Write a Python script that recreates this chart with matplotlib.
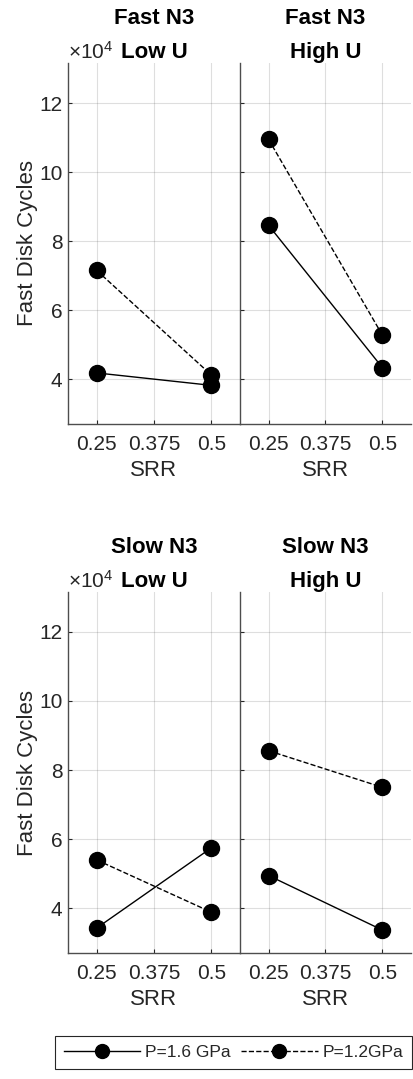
"""SRR 对快盘寿命的影响：四个工况的交互图。"""

import matplotlib

matplotlib.use("Agg")
import matplotlib.pyplot as plt
from matplotlib.lines import Line2D
from matplotlib.ticker import FuncFormatter

plt.rcParams["font.family"] = ["Liberation Sans", "DejaVu Sans"]
plt.rcParams["mathtext.fontset"] = "custom"
plt.rcParams["mathtext.rm"] = "Liberation Sans"

# =============================================================================
# 数据（单位：cycles）
# =============================================================================
SRR = [0.25, 0.5]
X_TICKS = [0.25, 0.375, 0.5]
X_TICK_LABELS = ["0.25", "0.375", "0.5"]
Y_TICKS = [40000, 60000, 80000, 100000, 120000]

FAST_LOW_16 = [41800, 38200]
FAST_LOW_12 = [71500, 41200]
FAST_HIGH_16 = [84600, 43300]
FAST_HIGH_12 = [109500, 52700]
SLOW_LOW_16 = [34300, 57500]
SLOW_LOW_12 = [54000, 38900]
SLOW_HIGH_16 = [49500, 33700]
SLOW_HIGH_12 = [85600, 75000]

PANEL_TITLES = ["Fast N3\nLow U", "Fast N3\nHigh U", "Slow N3\nLow U", "Slow N3\nHigh U"]
LEGEND_LABELS = ["P=1.6 GPa", "P=1.2GPa"]

W, H = 414, 1079
AX_COLOR = "#262626"
Y_LIM = (27000, 131600)
X_LIM = (0.1875, 0.5625)


def px_rect(x0, y0, x1, y1):
    return [x0 / W, 1 - y1 / H, (x1 - x0) / W, (y1 - y0) / H]


def style_axes(ax, show_ylabels):
    ax.set_xlim(*X_LIM)
    ax.set_ylim(*Y_LIM)
    ax.set_xticks(X_TICKS)
    ax.set_xticklabels(X_TICK_LABELS)
    ax.set_yticks(Y_TICKS)
    ax.yaxis.set_major_formatter(FuncFormatter(lambda v, _: f"{v / 1e4:g}"))
    ax.tick_params(axis="both", direction="in", length=3, width=0.8, colors=AX_COLOR, labelsize=15)
    ax.tick_params(axis="x", pad=8)
    ax.tick_params(axis="y", pad=4)
    ax.grid(True, color=AX_COLOR, alpha=0.15, linewidth=0.8)
    ax.set_axisbelow(True)
    for side in ("top", "right"):
        ax.spines[side].set_visible(False)
    for side in ("left", "bottom"):
        ax.spines[side].set_color("#4d4d4d")
        ax.spines[side].set_linewidth(1.0)
    ax.set_xlabel("SRR", fontsize=16, color=AX_COLOR, labelpad=4)
    if show_ylabels:
        ax.set_ylabel("Fast Disk Cycles", fontsize=16, color=AX_COLOR, labelpad=1)
        ax.text(0.0, 1.012, r"$\mathregular{\times10^{4}}$", transform=ax.transAxes,
                fontsize=15, color=AX_COLOR, ha="left", va="baseline")
    else:
        ax.tick_params(axis="y", labelleft=False)


def draw_panel(ax, title, p16, p12, show_ylabels):
    ax.plot(SRR, p16, color="black", linestyle="-", linewidth=1.0,
            marker="o", markersize=11.5, markerfacecolor="black", zorder=3)
    ax.plot(SRR, p12, color="black", linestyle="--", linewidth=1.0,
            marker="o", markersize=11.5, markerfacecolor="black", zorder=3)
    ax.set_title(title, fontsize=16, fontweight="bold", linespacing=1.8, pad=-0.5)
    style_axes(ax, show_ylabels)


fig = plt.figure(figsize=(W / 100, H / 100), dpi=100)

rows = [(63, 424), (591.7, 953.3)]
cols = [(68, 240), (240, 411)]
series = [
    (FAST_LOW_16, FAST_LOW_12),
    (FAST_HIGH_16, FAST_HIGH_12),
    (SLOW_LOW_16, SLOW_LOW_12),
    (SLOW_HIGH_16, SLOW_HIGH_12),
]

i = 0
for y0, y1 in rows:
    for j, (x0, x1) in enumerate(cols):
        ax = fig.add_axes(px_rect(x0, y0, x1, y1))
        p16, p12 = series[i]
        draw_panel(ax, PANEL_TITLES[i], p16, p12, show_ylabels=(j == 0))
        i += 1

handles = [
    Line2D([], [], color="black", linestyle="-", linewidth=1.0, marker="o",
           markersize=10, markerfacecolor="black"),
    Line2D([], [], color="black", linestyle="--", linewidth=1.0, marker="o",
           markersize=10, markerfacecolor="black"),
]
leg = fig.legend(handles, LEGEND_LABELS, loc="center", ncol=2,
                 bbox_to_anchor=(233.5 / W, 1 - 1052.5 / H),
                 fontsize=12.5, handlelength=4.4, handletextpad=0.3, columnspacing=0.6,
                 fancybox=False, framealpha=1, borderpad=0.5, borderaxespad=0)
leg.get_frame().set_edgecolor("#262626")
leg.get_frame().set_linewidth(0.8)
for text in leg.get_texts():
    text.set_color(AX_COLOR)

fig.savefig("out.png", dpi=100)
